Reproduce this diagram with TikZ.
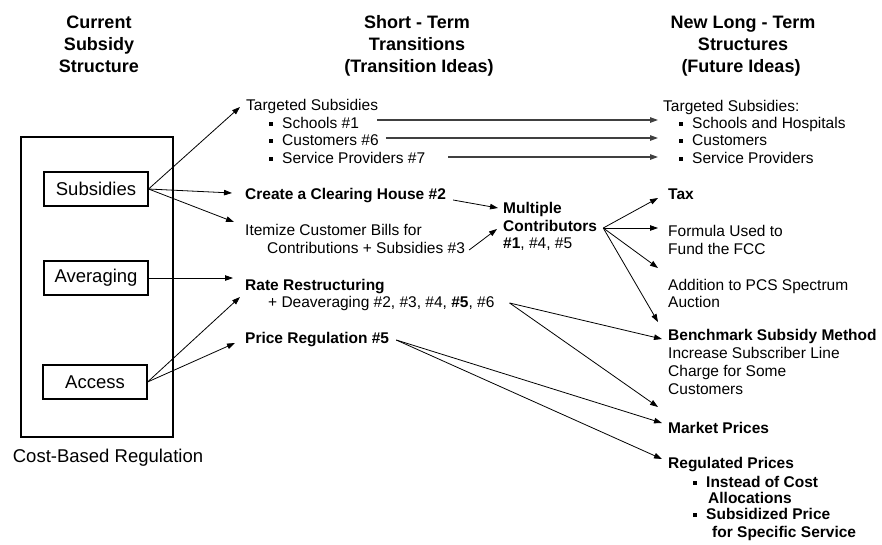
\documentclass[tikz,border=0pt]{standalone}
\usepackage{fontspec}
\setmainfont{Liberation Sans}
\usetikzlibrary{arrows.meta,calc}
\newcommand\bul{\rule[2.5pt]{3.5pt}{3.5pt}\hspace{9.5pt}}
\tikzset{
 txt/.style={anchor=base west, inner sep=0pt, font=\fontsize{15.5}{18}\selectfont},
 btxt/.style={anchor=base west, inner sep=0pt, font=\fontsize{15.5}{18}\selectfont\bfseries},
 hdr/.style={anchor=base, inner sep=0pt, font=\fontsize{18}{22}\selectfont\bfseries},
 lbl/.style={inner sep=0pt, font=\fontsize{18.5}{22}\selectfont},
 cbox/.style={draw, line width=1.1pt, minimum width=104pt, minimum height=34pt, inner sep=0pt, font=\fontsize{18.5}{22}\selectfont},
 arr/.style={-{Triangle[length=8pt,width=5.5pt]}, line width=0.8pt},
 harr/.style={-{Triangle[length=8pt,width=5.5pt]}, line width=1.2pt, black!75}
}
\begin{document}
\begin{tikzpicture}[x=1pt,y=-1pt]
\useasboundingbox (0,0) rectangle (882,544);
% headers
\node[hdr] (h1a) at (99,28) {Current};
\node[hdr] (h1b) at (99,50) {Subsidy};
\node[hdr] (h1c) at (99,72) {Structure};
\node[hdr] (h2a) at (417,28) {Short - Term};
\node[hdr] (h2b) at (417,50) {Transitions};
\node[hdr] (h2c) at (419,72) {(Transition Ideas)};
\node[hdr] (h3a) at (743,28) {New Long - Term};
\node[hdr] (h3b) at (743,50) {Structures};
\node[hdr] (h3c) at (741,72) {(Future Ideas)};
% column 1
\node[draw, line width=1.1pt, minimum width=152pt, minimum height=300pt, inner sep=0pt] (outer) at (97,287) {};
\node[cbox] (sub) at (96,189) {Subsidies};
\node[cbox] (avg) at (96,278) {Averaging};
\node[cbox] (acc) at (95,382) {Access};
\node[lbl, anchor=base] (cbr) at (108,462) {Cost-Based Regulation};
% column 2
\node[txt] (ts) at (246,110) {Targeted Subsidies};
\node[txt] (s1) at (269,128) {\bul Schools \#1};
\node[txt] (s2) at (269,145) {\bul Customers \#6};
\node[txt] (s3) at (269,163) {\bul Service Providers \#7};
\node[btxt] (create) at (245,199) {Create a Clearing House \#2};
\node[txt] (item1) at (245,235) {Itemize Customer Bills for};
\node[txt] (item2) at (267,253) {Contributions + Subsidies \#3};
\node[btxt] (rate1) at (245,290) {Rate Restructuring};
\node[txt] (rate2) at (268,307) {+ Deaveraging \#2, \#3, \#4, \textbf{\#5}, \#6};
\node[btxt] (price) at (245,343) {Price Regulation \#5};
\node[btxt] (multi1) at (503,213) {Multiple};
\node[btxt] (multi2) at (503,231) {Contributors};
\node[txt] (multi3) at (503,248) {\textbf{\#1}, \#4, \#5};
% column 3
\node[txt] (tsr) at (663,111) {Targeted Subsidies:};
\node[txt] (r1) at (679,128) {\bul Schools and Hospitals};
\node[txt] (r2) at (679,145) {\bul Customers};
\node[txt] (r3) at (679,163) {\bul Service Providers};
\node[btxt] (tax) at (668,199) {Tax};
\node[txt] (form1) at (668,236) {Formula Used to};
\node[txt] (form2) at (668,254) {Fund the FCC};
\node[txt] (add1) at (668,290) {Addition to PCS Spectrum};
\node[txt] (add2) at (668,307) {Auction};
\node[btxt] (bench) at (668,340) {Benchmark Subsidy Method};
\node[txt] (inc1) at (668,358) {Increase Subscriber Line};
\node[txt] (inc2) at (668,376) {Charge for Some};
\node[txt] (inc3) at (668,394) {Customers};
\node[btxt] (market) at (668,433) {Market Prices};
\node[btxt] (reg) at (668,468) {Regulated Prices};
\node[btxt] (reg1) at (693,487) {\bul Instead of Cost};
\node[btxt] (reg2) at (708,503) {Allocations};
\node[btxt] (reg3) at (693,519) {\bul Subsidized Price};
\node[btxt] (reg4) at (712,537) {for Specific Service};
% connectors
\draw[arr] (sub.east) -- ($(ts.base west)+(-6,-3)$);
\draw[arr] (sub.east) -- ($(create.base west)+(-13,-6)$);
\draw[arr] (sub.east) -- ($(item1.base west)+(-11,-13)$);
\draw[arr] (avg.east) -- ($(rate1.base west)+(-12,-12)$);
\draw[arr] (acc.east) -- ($(rate1.base west)+(-5,7)$);
\draw[arr] (acc.east) -- ($(price.base west)+(-10,0)$);
\draw[harr] ($(s1.base east)+(18,-8)$) -- ($(r1.base west)+(-21,-8)$);
\draw[harr] ($(s2.base east)+(7,-7)$) -- ($(r2.base west)+(-21,-7)$);
\draw[harr] ($(s3.base east)+(23,-6)$) -- ($(r3.base west)+(-21,-6)$);
\draw[arr] ($(create.base east)+(7,1)$) -- ($(multi1.base west)+(-5,-5)$);
\draw[arr] ($(item2.base east)+(4,-3)$) -- ($(multi2.base west)+(-6,-2)$);
\coordinate (msrc) at ($(multi2.base east)+(6,-3)$);
\draw[arr] (msrc) -- ($(tax.base west)+(-10,-1)$);
\draw[arr] (msrc) -- ($(form1.base west)+(-10,-8)$);
\draw[arr] (msrc) -- ($(add1.base west)+(-10,-22)$);
\draw[arr] (msrc) -- ($(bench.base west)+(-10,-18)$);
\coordinate (rsrc) at ($(rate2.base east)+(15,-4)$);
\draw[arr] (rsrc) -- ($(bench.base west)+(-6,-1)$);
\draw[arr] (rsrc) -- ($(market.base west)+(-10,-26)$);
\coordinate (psrc) at ($(price.base east)+(7,-3)$);
\draw[arr] (psrc) -- ($(market.base west)+(-6,-10)$);
\draw[arr] (psrc) -- ($(reg.base west)+(-6,-9)$);
\end{tikzpicture}
\end{document}
